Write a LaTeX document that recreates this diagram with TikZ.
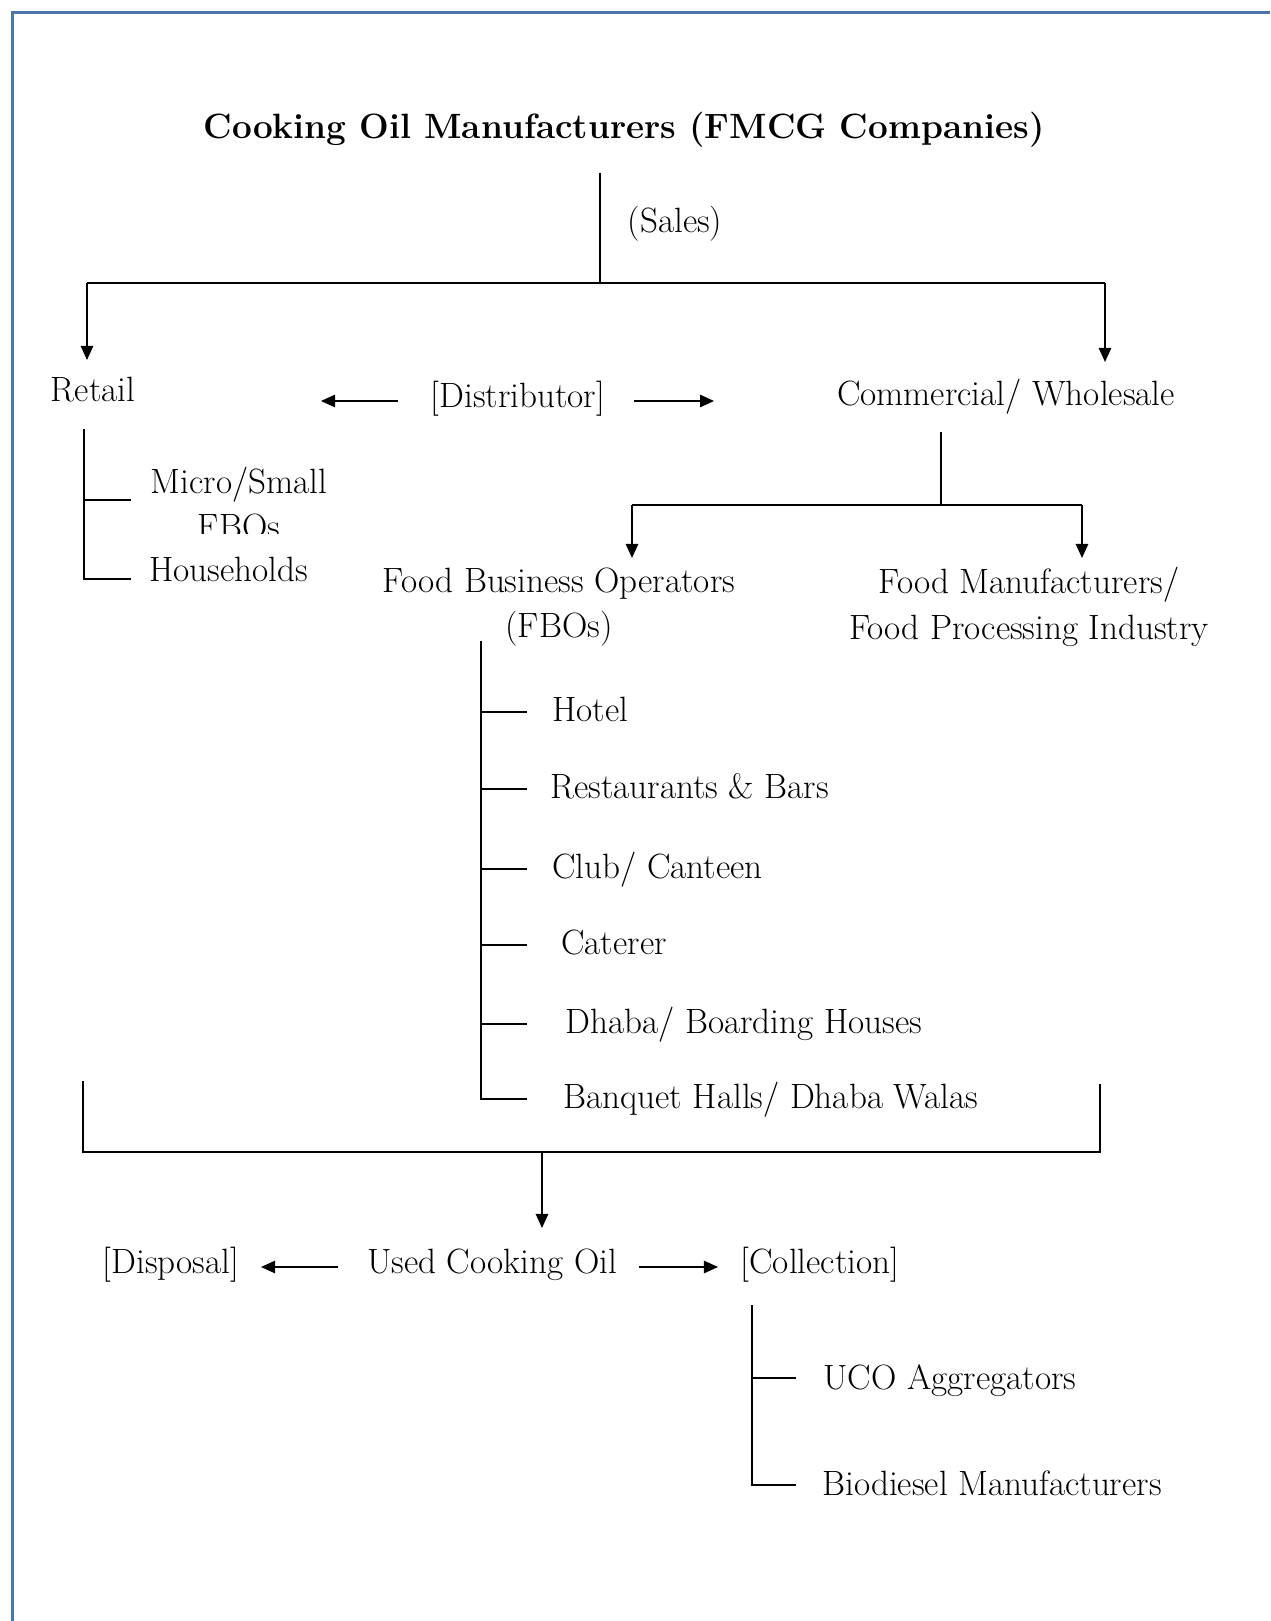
\documentclass[tikz,border=0pt]{standalone}
\usetikzlibrary{positioning,calc,arrows.meta}
\definecolor{framecol}{RGB}{74,118,168}

\begin{document}
\begin{tikzpicture}[
    x=0.02cm,y=-0.02cm,
    line/.style={draw=black,line width=1.1pt},
    arr/.style={draw=black,line width=1.1pt,-{Triangle[length=8pt,width=7pt]}},
    lbl/.style={inner sep=0pt,font=\fontsize{20}{26}\selectfont,
                text height=0.69em,text depth=0pt},
    lbltwo/.style={inner sep=0pt,font=\fontsize{20}{26}\selectfont,
                   align=center},
    head/.style={inner sep=0pt,font=\fontsize{20}{26}\selectfont\bfseries}
]
  \useasboundingbox (0,0) rectangle (1270,1621);
  % Page frame: only the top and left edges show.
  \draw[framecol,line width=1.7pt] (12.5,1621) -- (12.5,12.5) -- (1270,12.5);

  % Top level and the sales split.
  \node[head] (title) at (624,130) {Cooking Oil Manufacturers (FMCG Companies)};
  \node[lbl]  (sales) at (675,226) {(Sales)};
  \coordinate (stop)  at (600,173);
  \coordinate (sjoin) at (600,283);
  \coordinate (jl)    at (87,283);
  \coordinate (jr)    at (1105,283);

  \node[lbl] (retail) at (93,395)   {Retail};
  \node[lbl] (dist)   at (518,401)  {[Distributor]};
  \node[lbl] (comm)   at (1006,399) {Commercial/ Wholesale};

  \draw[line] (stop) -- (sjoin);
  \draw[line] (jl) -- (jr);
  \draw[arr] (jl) -- ++(0,77);
  \draw[arr] (jr) -- ++(0,79);
  \draw[arr,shorten <=2.4cm,shorten >=4.56cm] (dist.center) -- (dist.center -| retail.center);
  \draw[arr,shorten <=2.32cm,shorten >=5.84cm] (dist.center) -- (dist.center -| comm.center);

  % Retail branch.
  \begin{scope}
    \clip (140,440) rectangle (400,533);
    \node[lbltwo] (micro) at (239,503) {Micro/Small\\FBOs};
  \end{scope}
  \node[lbl,anchor=west] (house) at (149,575) {Households};
  \coordinate (rtop) at (84,429);
  \coordinate (rend) at (131,429);
  \draw[line] (rtop) |- (rend |- 0,579);
  \draw[line] (rtop |- 0,500) -- (rend |- 0,500);

  % Commercial branch.
  \coordinate (ctop)  at (941,432);
  \coordinate (cjoin) at (941,505);
  \coordinate (cl)    at (632,505);
  \coordinate (cr)    at (1082,505);
  \draw[line] (ctop) -- (cjoin);
  \draw[line] (cl) -- (cr);
  \draw[arr] (cl) -- ++(0,53);
  \draw[arr] (cr) -- ++(0,53);

  \node[lbltwo] (fbo)  at (559,607)  {Food Business Operators\\(FBOs)};
  \node[lbltwo] (fman) at (1029,607) {Food Manufacturers/\\Food Processing Industry};

  % Kinds of food business operators.
  \node[lbl,anchor=west] (hotel) at (552,715)  {Hotel};
  \node[lbl,anchor=west] (rest)  at (550,792)  {Restaurants \& Bars};
  \node[lbl,anchor=west] (club)  at (552,872)  {Club/ Canteen};
  \node[lbl,anchor=west] (cater) at (561,948)  {Caterer};
  \node[lbl,anchor=west] (dhaba) at (565,1027) {Dhaba/ Boarding Houses};
  \node[lbl,anchor=west] (banq)  at (563,1102) {Banquet Halls/ Dhaba Walas};
  \coordinate (ftop) at (481,641);
  \coordinate (fend) at (527,641);
  \draw[line] (ftop) |- (fend |- 0,1099);
  \draw[line] (ftop |- 0,712)  -- (fend |- 0,712);
  \draw[line] (ftop |- 0,789)  -- (fend |- 0,789);
  \draw[line] (ftop |- 0,869)  -- (fend |- 0,869);
  \draw[line] (ftop |- 0,945)  -- (fend |- 0,945);
  \draw[line] (ftop |- 0,1024) -- (fend |- 0,1024);

  % All users meet in used cooking oil.
  \coordinate (bl)   at (83,1081);
  \coordinate (br)   at (1100,1084);
  \coordinate (bmid) at (542,1152);
  \draw[line] (bl) |- (bmid) -| (br);
  \draw[arr] (bmid) -- ++(0,76);

  \node[lbl] (uco)  at (492,1267) {Used Cooking Oil};
  \node[lbl] (disp) at (171,1267) {[Disposal]};
  \node[lbl] (coll) at (820,1267) {[Collection]};
  \draw[arr,shorten <=3.08cm,shorten >=1.8cm]  (uco.center) -- (disp.center);
  \draw[arr,shorten <=2.94cm,shorten >=2.04cm] (uco.center) -- (coll.center);

  % Collection branch.
  \node[lbl,anchor=west] (agg) at (823,1383) {UCO Aggregators};
  \node[lbl,anchor=west] (bio) at (822,1489) {Biodiesel Manufacturers};
  \coordinate (ktop) at (752,1305);
  \coordinate (kend) at (796,1305);
  \draw[line] (ktop) |- (kend |- 0,1485);
  \draw[line] (ktop |- 0,1378) -- (kend |- 0,1378);
\end{tikzpicture}
\end{document}
